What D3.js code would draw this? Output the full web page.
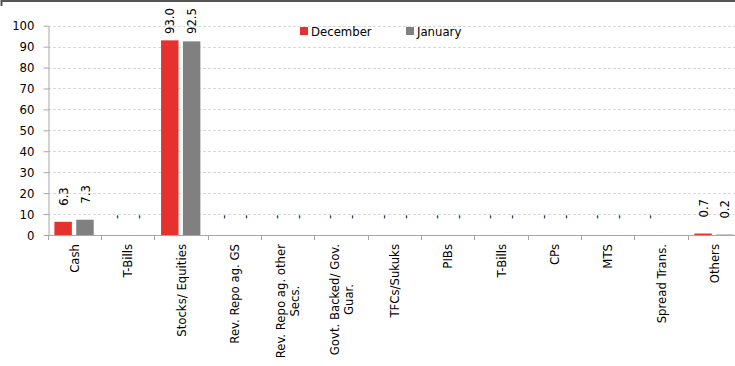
<!DOCTYPE html>
<html>
<head>
<meta charset="utf-8">
<script src="https://cdn.jsdelivr.net/npm/d3@7"></script>
<style>
  body { margin: 0; background: #fff; }
  svg { display: block; font-family: "DejaVu Sans Condensed", "DejaVu Sans", sans-serif; }
  .grid line { stroke: #d9d9d9; stroke-dasharray: 3,2; }
</style>
</head>
<body>
<svg width="735" height="366"></svg>
<script>
  // categories, split in lines as they wrap in the chart
  var categories = ["Cash", "T-Bills", "Stocks/ Equities", "Rev. Repo ag. GS",
                    "Rev. Repo ag. other|Secs.", "Govt. Backed/ Gov.|Guar.", "TFCs/Sukuks",
                    "PIBs", "T-Bills ", "CPs", "MTS", "Spread Trans.", "Others"];
  var series = ["December", "January"];
  var december = [6.3, 0, 93.0, 0, 0, 0, 0, 0, 0, 0, 0, 0, 0.7];
  var january  = [7.3, 0, 92.5, 0, 0, 0, 0, 0, 0, 0, 0, null, 0.2];
  var yTicks = [0, 10, 20, 30, 40, 50, 60, 70, 80, 90, 100];
  var colors = ["#e5322e", "#808080"];

  var svg = d3.select("svg");

  var x = d3.scaleBand().domain(d3.range(categories.length)).range([47.7, 741]);
  var xs = d3.scaleBand().domain(series).range([6.7, 46]).paddingInner(0.2);
  var y = d3.scaleLinear().domain([0, 100]).range([235, 25.7]);

  // frame line at top
  svg.append("path")
     .attr("d", "M1.5,6V1H735")
     .attr("fill", "none")
     .attr("stroke", "#555")
     .attr("stroke-width", 2);

  // gridlines
  svg.append("g")
     .attr("class", "grid")
     .selectAll("line")
     .data(yTicks.slice(1))
     .enter().append("line")
     .attr("x1", 48).attr("x2", 735)
     .attr("y1", function(d) { return Math.round(y(d)) + 0.5; })
     .attr("y2", function(d) { return Math.round(y(d)) + 0.5; });

  // y axis
  var yAxis = svg.append("g")
     .attr("transform", "translate(48.5,0)")
     .call(d3.axisLeft(y).tickValues(yTicks).tickSize(5).tickSizeOuter(0).tickPadding(9));
  yAxis.select(".domain").attr("stroke", "#a6a6a6");
  yAxis.selectAll(".tick line").attr("stroke", "#a6a6a6");
  yAxis.selectAll(".tick text").attr("fill", "#000").style("font-size", "13px")
       .style("font-family", "'DejaVu Sans Condensed', sans-serif");

  // bars
  var rows = categories.map(function(c, i) {
    return [{s: series[0], v: december[i], i: i, k: 0}, {s: series[1], v: january[i], i: i, k: 1}];
  });
  var grp = svg.append("g").selectAll("g")
     .data(rows)
     .enter().append("g")
     .attr("transform", function(d, i) { return "translate(" + x(i) + ",0)"; });

  grp.selectAll("rect")
     .data(function(d) { return d.filter(function(e) { return e.v > 0; }); })
     .enter().append("rect")
     .attr("x", function(d) { return xs(d.s); })
     .attr("width", xs.bandwidth())
     .attr("y", function(d) { return y(d.v); })
     .attr("height", function(d) { return y(0) - y(d.v); })
     .attr("fill", function(d) { return colors[d.k]; });

  // data labels
  grp.selectAll("text")
     .data(function(d) { return d.filter(function(e) { return e.v !== null; }); })
     .enter().append("text")
     .attr("font-size", "13px")
     .attr("fill", "#000")
     .attr("dy", "0.35em")
     .text(function(d) { return d.v === 0 ? "-" : d.v.toFixed(1); })
     .attr("transform", function(d) {
        var len = this.getComputedTextLength();
        var b = y(d.v) - 16;
        if (b - len < 8) b = 8 + len;
        return "translate(" + (xs(d.s) + xs.bandwidth() / 2) + "," + b + ") rotate(-90)";
     });

  // x axis
  svg.append("line")
     .attr("x1", 48).attr("x2", 735)
     .attr("y1", 235.5).attr("y2", 235.5)
     .attr("stroke", "#a6a6a6");
  svg.append("g").selectAll("line")
     .data(d3.range(categories.length + 1))
     .enter().append("line")
     .attr("x1", function(d) { return Math.round(47.7 + d * x.step()) + 0.5; })
     .attr("x2", function(d) { return Math.round(47.7 + d * x.step()) + 0.5; })
     .attr("y1", 235).attr("y2", 240)
     .attr("stroke", "#a6a6a6");

  var labels = svg.append("g").selectAll("text")
     .data(categories)
     .enter().append("text")
     .attr("font-size", "13px")
     .attr("fill", "#000")
     .attr("text-anchor", "middle")
     .attr("transform", function(d, i) { return "translate(" + (x(i) + x.bandwidth() / 2) + ",244) rotate(-90)"; });

  labels.each(function(d) {
    var t = d3.select(this);
    var lines = d.split("|");
    var n = lines.length;
    var spans = lines.map(function(l, j) {
      return t.append("tspan")
              .attr("x", 0)
              .attr("y", (j - (n - 1) / 2) * 14)
              .attr("dy", "0.35em")
              .text(l.trim());
    });
    var w = d3.max(spans, function(s) { return s.node().getComputedTextLength(); });
    spans.forEach(function(s) { s.attr("x", -w / 2); });
  });

  // legend
  var leg = svg.append("g").selectAll("g")
     .data(series)
     .enter().append("g")
     .attr("transform", function(d, i) { return "translate(" + [300, 406][i] + ",27)"; });
  leg.append("rect")
     .attr("width", 8).attr("height", 8)
     .attr("fill", function(d, i) { return colors[i]; });
  leg.append("text")
     .attr("x", 11).attr("y", 8.5)
     .attr("font-size", "13px")
     .attr("fill", "#000")
     .text(function(d) { return d; });
</script>
</body>
</html>
